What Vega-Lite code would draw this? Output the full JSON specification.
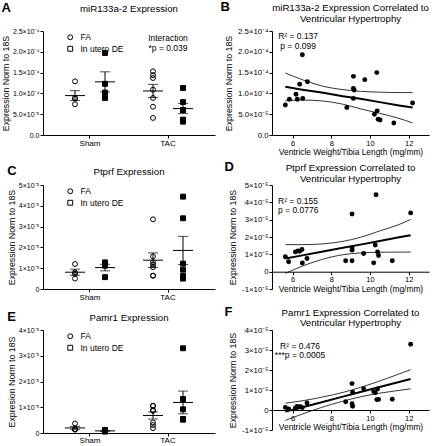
{
"$schema": "https://vega.github.io/schema/vega-lite/v6.json",
"padding": {"left": 1, "top": 1, "right": 1, "bottom": 0},
"config": {
  "font": "Liberation Sans",
  "view": {"stroke": null},
  "axis": {"domainColor": "black", "tickColor": "black", "labelColor": "black", "titleColor": "black", "grid": false, "tickSize": 3, "labelFontSize": 7, "titleFontSize": 8.8, "titleFontWeight": "normal", "labelPadding": 1, "titlePadding": 2, "domainWidth": 1, "tickWidth": 1},
  "title": {"fontSize": 9.7, "fontWeight": "normal", "color": "black", "font": "Liberation Sans"},
  "legend": {"labelFontSize": 8.5, "labelColor": "black", "symbolStrokeColor": "black", "symbolStrokeWidth": 1, "symbolSize": 24, "rowPadding": 1.5, "labelOffset": 6, "title": null}
},
"datasets": {
  "a": [
    {"surgery": "Sham", "exposure": "FA", "expr": 0.000129},
    {"surgery": "Sham", "exposure": "FA", "expr": 0.000087},
    {"surgery": "Sham", "exposure": "FA", "expr": 0.000089},
    {"surgery": "Sham", "exposure": "FA", "expr": 0.000074},
    {"surgery": "Sham", "exposure": "In utero DE", "expr": 0.000197},
    {"surgery": "Sham", "exposure": "In utero DE", "expr": 0.000123},
    {"surgery": "Sham", "exposure": "In utero DE", "expr": 0.000102},
    {"surgery": "Sham", "exposure": "In utero DE", "expr": 0.000089},
    {"surgery": "TAC", "exposure": "FA", "expr": 0.000153},
    {"surgery": "TAC", "exposure": "FA", "expr": 0.000144},
    {"surgery": "TAC", "exposure": "FA", "expr": 0.000137},
    {"surgery": "TAC", "exposure": "FA", "expr": 0.000109},
    {"surgery": "TAC", "exposure": "FA", "expr": 0.000089},
    {"surgery": "TAC", "exposure": "FA", "expr": 0.000068},
    {"surgery": "TAC", "exposure": "FA", "expr": 0.000041},
    {"surgery": "TAC", "exposure": "In utero DE", "expr": 0.000113},
    {"surgery": "TAC", "exposure": "In utero DE", "expr": 0.000079},
    {"surgery": "TAC", "exposure": "In utero DE", "expr": 0.000060},
    {"surgery": "TAC", "exposure": "In utero DE", "expr": 0.000060},
    {"surgery": "TAC", "exposure": "In utero DE", "expr": 0.000032},
    {"surgery": "TAC", "exposure": "In utero DE", "expr": 0.000037}
  ],
  "c": [
    {"surgery": "Sham", "exposure": "FA", "expr": 0.0000120},
    {"surgery": "Sham", "exposure": "FA", "expr": 0.0000050},
    {"surgery": "Sham", "exposure": "FA", "expr": 0.0000073},
    {"surgery": "Sham", "exposure": "FA", "expr": 0.0000080},
    {"surgery": "Sham", "exposure": "In utero DE", "expr": 0.0000115},
    {"surgery": "Sham", "exposure": "In utero DE", "expr": 0.0000112},
    {"surgery": "Sham", "exposure": "In utero DE", "expr": 0.0000128},
    {"surgery": "Sham", "exposure": "In utero DE", "expr": 0.0000057},
    {"surgery": "TAC", "exposure": "FA", "expr": 0.0000335},
    {"surgery": "TAC", "exposure": "FA", "expr": 0.0000157},
    {"surgery": "TAC", "exposure": "FA", "expr": 0.0000117},
    {"surgery": "TAC", "exposure": "FA", "expr": 0.0000128},
    {"surgery": "TAC", "exposure": "FA", "expr": 0.0000105},
    {"surgery": "TAC", "exposure": "FA", "expr": 0.0000064},
    {"surgery": "TAC", "exposure": "FA", "expr": 0.0000064},
    {"surgery": "TAC", "exposure": "In utero DE", "expr": 0.0000444},
    {"surgery": "TAC", "exposure": "In utero DE", "expr": 0.0000340},
    {"surgery": "TAC", "exposure": "In utero DE", "expr": 0.0000122},
    {"surgery": "TAC", "exposure": "In utero DE", "expr": 0.0000093},
    {"surgery": "TAC", "exposure": "In utero DE", "expr": 0.0000064},
    {"surgery": "TAC", "exposure": "In utero DE", "expr": 0.0000050}
  ],
  "e": [
    {"surgery": "Sham", "exposure": "FA", "expr": 0.0000015},
    {"surgery": "Sham", "exposure": "FA", "expr": 0.0000013},
    {"surgery": "Sham", "exposure": "FA", "expr": 0.0000014},
    {"surgery": "Sham", "exposure": "FA", "expr": 0.0000037},
    {"surgery": "Sham", "exposure": "In utero DE", "expr": 0.0000009},
    {"surgery": "Sham", "exposure": "In utero DE", "expr": 0.0000006},
    {"surgery": "Sham", "exposure": "In utero DE", "expr": 0.0000006},
    {"surgery": "Sham", "exposure": "In utero DE", "expr": 0.0000012},
    {"surgery": "TAC", "exposure": "FA", "expr": 0.0000106},
    {"surgery": "TAC", "exposure": "FA", "expr": 0.0000089},
    {"surgery": "TAC", "exposure": "FA", "expr": 0.0000086},
    {"surgery": "TAC", "exposure": "FA", "expr": 0.0000105},
    {"surgery": "TAC", "exposure": "FA", "expr": 0.0000041},
    {"surgery": "TAC", "exposure": "FA", "expr": 0.0000019},
    {"surgery": "TAC", "exposure": "FA", "expr": 0.0000031},
    {"surgery": "TAC", "exposure": "In utero DE", "expr": 0.0000329},
    {"surgery": "TAC", "exposure": "In utero DE", "expr": 0.0000132},
    {"surgery": "TAC", "exposure": "In utero DE", "expr": 0.0000092},
    {"surgery": "TAC", "exposure": "In utero DE", "expr": 0.0000054},
    {"surgery": "TAC", "exposure": "In utero DE", "expr": 0.0000052},
    {"surgery": "TAC", "exposure": "In utero DE", "expr": 0.0000053}
  ],
  "b": [
    {"vwtl": 5.62, "expr": 0.000072}, {"vwtl": 5.83, "expr": 0.000086}, {"vwtl": 6.17, "expr": 0.000098},
    {"vwtl": 6.24, "expr": 0.000086}, {"vwtl": 6.36, "expr": 0.000122}, {"vwtl": 6.50, "expr": 0.000193},
    {"vwtl": 6.52, "expr": 0.000088}, {"vwtl": 6.76, "expr": 0.000128}, {"vwtl": 8.80, "expr": 0.000066},
    {"vwtl": 9.14, "expr": 0.000141}, {"vwtl": 9.14, "expr": 0.000112}, {"vwtl": 9.18, "expr": 0.000108},
    {"vwtl": 9.14, "expr": 0.000088}, {"vwtl": 9.73, "expr": 0.000133}, {"vwtl": 10.35, "expr": 0.000150},
    {"vwtl": 10.23, "expr": 0.000050}, {"vwtl": 10.37, "expr": 0.000058}, {"vwtl": 10.42, "expr": 0.000038},
    {"vwtl": 10.52, "expr": 0.000036}, {"vwtl": 11.23, "expr": 0.000029}, {"vwtl": 12.20, "expr": 0.000077}
  ],
  "bband": [
    {"vwtl": 5.62, "fit": 0.000116, "upper": 0.000149, "lower": 0.000082},
    {"vwtl": 6.5, "fit": 0.000109, "upper": 0.000133, "lower": 0.000084},
    {"vwtl": 7.5, "fit": 0.000102, "upper": 0.000118, "lower": 0.000082},
    {"vwtl": 8.6, "fit": 0.000093, "upper": 0.000109, "lower": 0.000074},
    {"vwtl": 9.5, "fit": 0.000087, "upper": 0.000105, "lower": 0.000063},
    {"vwtl": 10.5, "fit": 0.000079, "upper": 0.000103, "lower": 0.000052},
    {"vwtl": 11.5, "fit": 0.000071, "upper": 0.000102, "lower": 0.000040},
    {"vwtl": 12.2, "fit": 0.000066, "upper": 0.000102, "lower": 0.000029}
  ],
  "d": [
    {"vwtl": 5.62, "expr": 0.0000086}, {"vwtl": 5.79, "expr": 0.0000057}, {"vwtl": 6.14, "expr": 0.0000114},
    {"vwtl": 6.27, "expr": 0.0000120}, {"vwtl": 6.36, "expr": 0.0000118}, {"vwtl": 6.48, "expr": 0.0000128},
    {"vwtl": 6.50, "expr": 0.0000050}, {"vwtl": 6.74, "expr": 0.0000076}, {"vwtl": 8.74, "expr": 0.0000063},
    {"vwtl": 9.07, "expr": 0.0000333}, {"vwtl": 9.07, "expr": 0.0000137}, {"vwtl": 9.07, "expr": 0.0000124},
    {"vwtl": 9.07, "expr": 0.0000063}, {"vwtl": 9.67, "expr": 0.0000105}, {"vwtl": 10.31, "expr": 0.0000444},
    {"vwtl": 10.27, "expr": 0.0000154}, {"vwtl": 10.19, "expr": 0.0000051}, {"vwtl": 10.39, "expr": 0.0000114},
    {"vwtl": 10.44, "expr": 0.0000093}, {"vwtl": 11.15, "expr": 0.0000063}, {"vwtl": 12.10, "expr": 0.0000339}
  ],
  "dband": [
    {"vwtl": 5.62, "fit": 0.0000076, "upper": 0.0000156, "lower": -0.0000010},
    {"vwtl": 6.5, "fit": 0.0000094, "upper": 0.0000156, "lower": 0.0000032},
    {"vwtl": 7.5, "fit": 0.0000115, "upper": 0.0000160, "lower": 0.0000070},
    {"vwtl": 8.6, "fit": 0.0000138, "upper": 0.0000175, "lower": 0.0000098},
    {"vwtl": 9.5, "fit": 0.0000156, "upper": 0.0000198, "lower": 0.0000108},
    {"vwtl": 10.5, "fit": 0.0000177, "upper": 0.0000235, "lower": 0.0000112},
    {"vwtl": 11.5, "fit": 0.0000198, "upper": 0.0000272, "lower": 0.0000113},
    {"vwtl": 12.1, "fit": 0.0000210, "upper": 0.0000301, "lower": 0.0000113}
  ],
  "f": [
    {"vwtl": 5.62, "expr": 0.0000013}, {"vwtl": 5.79, "expr": 0.0000005}, {"vwtl": 6.14, "expr": 0.0000010},
    {"vwtl": 6.22, "expr": 0.0000018}, {"vwtl": 6.30, "expr": 0.0000015}, {"vwtl": 6.40, "expr": 0.0000016},
    {"vwtl": 6.50, "expr": 0.0000012}, {"vwtl": 6.74, "expr": 0.0000035}, {"vwtl": 8.74, "expr": 0.0000041},
    {"vwtl": 9.07, "expr": 0.0000132}, {"vwtl": 9.10, "expr": 0.0000089}, {"vwtl": 9.07, "expr": 0.0000031},
    {"vwtl": 9.10, "expr": 0.0000019}, {"vwtl": 9.67, "expr": 0.0000106}, {"vwtl": 10.19, "expr": 0.0000092},
    {"vwtl": 10.27, "expr": 0.0000086}, {"vwtl": 10.39, "expr": 0.0000105}, {"vwtl": 10.35, "expr": 0.0000052},
    {"vwtl": 10.44, "expr": 0.0000053}, {"vwtl": 11.15, "expr": 0.0000054}, {"vwtl": 12.10, "expr": 0.0000329}
  ],
  "fband": [
    {"vwtl": 5.62, "fit": -0.0000008, "upper": 0.0000034, "lower": -0.0000052},
    {"vwtl": 6.5, "fit": 0.0000014, "upper": 0.0000046, "lower": -0.0000020},
    {"vwtl": 7.5, "fit": 0.0000039, "upper": 0.0000064, "lower": 0.0000013},
    {"vwtl": 8.6, "fit": 0.0000067, "upper": 0.0000088, "lower": 0.0000044},
    {"vwtl": 9.5, "fit": 0.0000090, "upper": 0.0000113, "lower": 0.0000066},
    {"vwtl": 10.5, "fit": 0.0000115, "upper": 0.0000145, "lower": 0.0000084},
    {"vwtl": 11.5, "fit": 0.0000140, "upper": 0.0000180, "lower": 0.0000098},
    {"vwtl": 12.1, "fit": 0.0000155, "upper": 0.0000202, "lower": 0.0000106}
  ],
  "anA": [
    {"surgery": "TAC", "expr": 0.000234, "label": "Interaction"},
    {"surgery": "TAC", "expr": 0.000210, "label": "*p = 0.039"}
  ],
  "anB": [
    {"vwtl": 6.28, "expr": 0.000238, "label": "R² = 0.137"},
    {"vwtl": 6.28, "expr": 0.000214, "label": "p = 0.099"}
  ],
  "anD": [
    {"vwtl": 5.24, "expr": 0.0000410, "label": "R² = 0.155"},
    {"vwtl": 5.24, "expr": 0.0000354, "label": "p = 0.0776"}
  ],
  "anF": [
    {"vwtl": 6.38, "expr": 0.0000322, "label": "R² = 0.476"},
    {"vwtl": 6.38, "expr": 0.0000274, "label": "***p = 0.0005"}
  ]
},
"resolve": {"scale": {"shape": "independent"}, "legend": {"shape": "independent"}},
"columns": 2,
"spacing": {"row": 5, "column": 5},
"concat": [
  {
    "title": {"text": "A", "anchor": "start", "fontSize": 13, "fontWeight": "bold", "dy": 15},
    "vconcat": [{
      "width": 172, "height": 104,
      "title": {"text": "miR133a-2 Expression", "offset": 13, "frame": "group"},
      "encoding": {
        "x": {"field": "surgery", "type": "nominal", "sort": ["Sham", "TAC"], "scale": {"paddingInner": 0.45, "paddingOuter": 0.3275}, "axis": {"title": null, "labelAngle": 0, "labelFontSize": 8}},
        "y": {"field": "expr", "type": "quantitative", "scale": {"domain": [0, 0.00025], "nice": false}, "axis": {"values": [0, 0.00005, 0.0001, 0.00015, 0.0002, 0.00025], "labelExpr": "datum.value == 0 ? '0.0' : datum.value < 0.00009 ? format(datum.value*100000, '.1f') + '×10⁻⁵' : format(datum.value*10000, '.1f') + '×10⁻⁴'", "title": "Expression Norm to 18S"}}
      },
      "layer": [
        {"data": {"name": "a"}, "mark": {"type": "errorbar", "extent": "stderr", "ticks": true, "size": 10, "thickness": 1, "color": "black"},
         "encoding": {"xOffset": {"field": "exposure", "type": "nominal", "sort": ["FA", "In utero DE"], "scale": {"paddingInner": 0.6, "paddingOuter": 0.015}}}},
        {"data": {"name": "a"}, "mark": {"type": "tick", "size": 20, "thickness": 1, "color": "black"},
         "encoding": {"xOffset": {"field": "exposure", "type": "nominal", "sort": ["FA", "In utero DE"]}, "y": {"aggregate": "mean", "field": "expr", "type": "quantitative"}}},
        {"data": {"name": "a"}, "mark": {"type": "point", "filled": false, "color": "black", "strokeWidth": 1, "size": 24, "opacity": 1},
         "encoding": {"xOffset": {"field": "exposure", "type": "nominal", "sort": ["FA", "In utero DE"]},
           "shape": {"field": "exposure", "type": "nominal", "scale": {"domain": ["FA", "In utero DE"], "range": ["circle", "square"]}, "legend": {"orient": "none", "legendX": 23, "legendY": 2, "symbolStrokeColor": "black", "encode": {"symbols": {"update": {"fill": [{"test": "datum.value === 'FA'", "value": "white"}, {"value": "black"}]}}}}}}},
        {"data": {"name": "a"}, "transform": [{"filter": "datum.exposure === 'In utero DE'"}], "mark": {"type": "square", "color": "black", "size": 24, "opacity": 1},
         "encoding": {"xOffset": {"field": "exposure", "type": "nominal", "sort": ["FA", "In utero DE"]}}},
        {"data": {"name": "anA"}, "mark": {"type": "text", "fontSize": 8.5, "align": "center", "baseline": "middle", "color": "black"},
         "encoding": {"text": {"field": "label", "type": "nominal"}}}
      ]
    }]
  },
  {
    "title": {"text": "B", "anchor": "start", "fontSize": 13, "fontWeight": "bold", "dy": 15, "dx": -4},
    "vconcat": [{
      "width": 157, "height": 104,
      "title": {"text": ["miR133a-2 Expression Correlated to", "Ventricular Hypertrophy"], "offset": 3, "lineHeight": 11, "frame": "group"},
      "encoding": {
        "x": {"field": "vwtl", "type": "quantitative", "scale": {"domain": [4.93, 13.05], "nice": false, "zero": false}, "axis": {"values": [6, 8, 10, 12], "title": "Ventricle Weight/Tibia Length (mg/mm)", "labelFontSize": 7.5, "titleFontSize": 8.4, "titlePadding": 1}},
        "y": {"field": "expr", "type": "quantitative", "scale": {"domain": [0, 0.00025], "nice": false}, "axis": {"values": [0, 0.00005, 0.0001, 0.00015, 0.0002, 0.00025], "labelExpr": "datum.value == 0 ? '0.0' : datum.value < 0.00009 ? format(datum.value*100000, '.1f') + '×10⁻⁵' : format(datum.value*10000, '.1f') + '×10⁻⁴'", "title": "Expression Norm to 18S", "labelFontSize": 7.8, "titlePadding": 4}}
      },
      "layer": [
        {"data": {"name": "bband"}, "mark": {"type": "line", "color": "black", "strokeWidth": 0.8, "interpolate": "monotone"}, "encoding": {"y": {"field": "upper", "type": "quantitative"}}},
        {"data": {"name": "bband"}, "mark": {"type": "line", "color": "black", "strokeWidth": 0.8, "interpolate": "monotone"}, "encoding": {"y": {"field": "lower", "type": "quantitative"}}},
        {"data": {"name": "bband"}, "mark": {"type": "line", "color": "black", "strokeWidth": 2}, "encoding": {"y": {"field": "fit", "type": "quantitative"}}},
        {"data": {"name": "b"}, "mark": {"type": "circle", "size": 24, "color": "black", "opacity": 1}},
        {"data": {"name": "anB"}, "mark": {"type": "text", "fontSize": 8.5, "align": "center", "baseline": "middle", "color": "black"},
         "encoding": {"text": {"field": "label", "type": "nominal"}}}
      ]
    }]
  },
  {
    "title": {"text": "C", "anchor": "start", "fontSize": 13, "fontWeight": "bold", "dy": 15},
    "vconcat": [{
      "width": 172, "height": 104,
      "title": {"text": "Ptprf Expression", "offset": 4, "frame": "group"},
      "encoding": {
        "x": {"field": "surgery", "type": "nominal", "sort": ["Sham", "TAC"], "scale": {"paddingInner": 0.45, "paddingOuter": 0.3275}, "axis": {"title": null, "labelAngle": 0, "labelFontSize": 8}},
        "y": {"field": "expr", "type": "quantitative", "scale": {"domain": [0, 0.00005], "nice": false}, "axis": {"values": [0, 0.00001, 0.00002, 0.00003, 0.00004, 0.00005], "labelExpr": "datum.value == 0 ? '0' : round(datum.value*100000) + '×10⁻⁵'", "title": "Expression Norm to 18S"}}
      },
      "layer": [
        {"data": {"name": "c"}, "mark": {"type": "errorbar", "extent": "stderr", "ticks": true, "size": 10, "thickness": 1, "color": "black"},
         "encoding": {"xOffset": {"field": "exposure", "type": "nominal", "sort": ["FA", "In utero DE"], "scale": {"paddingInner": 0.6, "paddingOuter": 0.015}}}},
        {"data": {"name": "c"}, "mark": {"type": "tick", "size": 20, "thickness": 1, "color": "black"},
         "encoding": {"xOffset": {"field": "exposure", "type": "nominal", "sort": ["FA", "In utero DE"]}, "y": {"aggregate": "mean", "field": "expr", "type": "quantitative"}}},
        {"data": {"name": "c"}, "mark": {"type": "point", "filled": false, "color": "black", "strokeWidth": 1, "size": 24, "opacity": 1},
         "encoding": {"xOffset": {"field": "exposure", "type": "nominal", "sort": ["FA", "In utero DE"]},
           "shape": {"field": "exposure", "type": "nominal", "scale": {"domain": ["FA", "In utero DE"], "range": ["circle", "square"]}, "legend": {"orient": "none", "legendX": 23, "legendY": 2, "symbolStrokeColor": "black", "encode": {"symbols": {"update": {"fill": [{"test": "datum.value === 'FA'", "value": "white"}, {"value": "black"}]}}}}}}},
        {"data": {"name": "c"}, "transform": [{"filter": "datum.exposure === 'In utero DE'"}], "mark": {"type": "square", "color": "black", "size": 24, "opacity": 1},
         "encoding": {"xOffset": {"field": "exposure", "type": "nominal", "sort": ["FA", "In utero DE"]}}}
      ]
    }]
  },
  {
    "title": {"text": "D", "anchor": "start", "fontSize": 13, "fontWeight": "bold", "dy": 15, "dx": -4},
    "vconcat": [{
      "width": 157, "height": 104,
      "title": {"text": ["Ptprf Expression Correlated to", "Ventricular Hypertrophy"], "offset": -3, "lineHeight": 11, "frame": "group"},
      "encoding": {
        "x": {"field": "vwtl", "type": "quantitative", "scale": {"domain": [4.93, 13.05], "nice": false, "zero": false}, "axis": {"values": [6, 8, 10, 12], "title": "Ventricle Weight/Tibia Length (mg/mm)", "labelFontSize": 7.5, "titleFontSize": 8.4, "titlePadding": 1, "offset": -17.3}},
        "y": {"field": "expr", "type": "quantitative", "scale": {"domain": [-0.00001, 0.00005], "nice": false}, "axis": {"values": [-0.00001, 0, 0.00001, 0.00002, 0.00003, 0.00004, 0.00005], "labelExpr": "datum.value == 0 ? '0' : round(datum.value*100000) + '×10⁻⁵'", "title": "Expression Norm to 18S", "labelFontSize": 7.8, "titlePadding": 4}}
      },
      "layer": [
        {"data": {"name": "dband"}, "mark": {"type": "line", "color": "black", "strokeWidth": 0.8, "interpolate": "monotone"}, "encoding": {"y": {"field": "upper", "type": "quantitative"}}},
        {"data": {"name": "dband"}, "mark": {"type": "line", "color": "black", "strokeWidth": 0.8, "interpolate": "monotone"}, "encoding": {"y": {"field": "lower", "type": "quantitative"}}},
        {"data": {"name": "dband"}, "mark": {"type": "line", "color": "black", "strokeWidth": 2}, "encoding": {"y": {"field": "fit", "type": "quantitative"}}},
        {"data": {"name": "d"}, "mark": {"type": "circle", "size": 24, "color": "black", "opacity": 1}},
        {"data": {"name": "anD"}, "mark": {"type": "text", "fontSize": 8.5, "align": "left", "baseline": "middle", "color": "black"},
         "encoding": {"text": {"field": "label", "type": "nominal"}}}
      ]
    }]
  },
  {
    "title": {"text": "E", "anchor": "start", "fontSize": 13, "fontWeight": "bold", "dy": 15},
    "vconcat": [{
      "width": 172, "height": 103,
      "title": {"text": "Pamr1 Expression", "offset": 3, "frame": "group"},
      "encoding": {
        "x": {"field": "surgery", "type": "nominal", "sort": ["Sham", "TAC"], "scale": {"paddingInner": 0.45, "paddingOuter": 0.3275}, "axis": {"title": null, "labelAngle": 0, "labelFontSize": 8, "labelPadding": 0}},
        "y": {"field": "expr", "type": "quantitative", "scale": {"domain": [0, 0.00004], "nice": false}, "axis": {"values": [0, 0.00001, 0.00002, 0.00003, 0.00004], "labelExpr": "datum.value == 0 ? '0' : round(datum.value*100000) + '×10⁻⁵'", "title": "Expresion Norm to 18S"}}
      },
      "layer": [
        {"data": {"name": "e"}, "mark": {"type": "errorbar", "extent": "stderr", "ticks": true, "size": 10, "thickness": 1, "color": "black"},
         "encoding": {"xOffset": {"field": "exposure", "type": "nominal", "sort": ["FA", "In utero DE"], "scale": {"paddingInner": 0.6, "paddingOuter": 0.015}}}},
        {"data": {"name": "e"}, "mark": {"type": "tick", "size": 20, "thickness": 1, "color": "black"},
         "encoding": {"xOffset": {"field": "exposure", "type": "nominal", "sort": ["FA", "In utero DE"]}, "y": {"aggregate": "mean", "field": "expr", "type": "quantitative"}}},
        {"data": {"name": "e"}, "mark": {"type": "point", "filled": false, "color": "black", "strokeWidth": 1, "size": 24, "opacity": 1},
         "encoding": {"xOffset": {"field": "exposure", "type": "nominal", "sort": ["FA", "In utero DE"]},
           "shape": {"field": "exposure", "type": "nominal", "scale": {"domain": ["FA", "In utero DE"], "range": ["circle", "square"]}, "legend": {"orient": "none", "legendX": 23, "legendY": 2, "symbolStrokeColor": "black", "encode": {"symbols": {"update": {"fill": [{"test": "datum.value === 'FA'", "value": "white"}, {"value": "black"}]}}}}}}},
        {"data": {"name": "e"}, "transform": [{"filter": "datum.exposure === 'In utero DE'"}], "mark": {"type": "square", "color": "black", "size": 24, "opacity": 1},
         "encoding": {"xOffset": {"field": "exposure", "type": "nominal", "sort": ["FA", "In utero DE"]}}}
      ]
    }]
  },
  {
    "title": {"text": "F", "anchor": "start", "fontSize": 13, "fontWeight": "bold", "dy": 15, "dx": -4},
    "vconcat": [{
      "width": 157, "height": 100,
      "title": {"text": ["Pamr1 Expression Correlated to", "Ventricular Hypertrophy"], "offset": -2, "lineHeight": 10, "frame": "group"},
      "encoding": {
        "x": {"field": "vwtl", "type": "quantitative", "scale": {"domain": [4.93, 13.05], "nice": false, "zero": false}, "axis": {"values": [6, 8, 10, 12], "title": "Ventricle Weight/Tibia Length (mg/mm)", "labelFontSize": 7.5, "titleFontSize": 8.4, "titlePadding": 1, "offset": -20}},
        "y": {"field": "expr", "type": "quantitative", "scale": {"domain": [-0.00001, 0.00004], "nice": false}, "axis": {"values": [-0.00001, 0, 0.00001, 0.00002, 0.00003, 0.00004], "labelExpr": "datum.value == 0 ? '0' : round(datum.value*100000) + '×10⁻⁵'", "title": "Expression Norm to 18S", "labelFontSize": 7.8, "titlePadding": 4}}
      },
      "layer": [
        {"data": {"name": "fband"}, "mark": {"type": "line", "color": "black", "strokeWidth": 0.8, "interpolate": "monotone"}, "encoding": {"y": {"field": "upper", "type": "quantitative"}}},
        {"data": {"name": "fband"}, "mark": {"type": "line", "color": "black", "strokeWidth": 0.8, "interpolate": "monotone"}, "encoding": {"y": {"field": "lower", "type": "quantitative"}}},
        {"data": {"name": "fband"}, "mark": {"type": "line", "color": "black", "strokeWidth": 2}, "encoding": {"y": {"field": "fit", "type": "quantitative"}}},
        {"data": {"name": "f"}, "mark": {"type": "circle", "size": 24, "color": "black", "opacity": 1}},
        {"data": {"name": "anF"}, "mark": {"type": "text", "fontSize": 8.5, "align": "center", "baseline": "middle", "color": "black"},
         "encoding": {"text": {"field": "label", "type": "nominal"}}}
      ]
    }]
  }
]
}
